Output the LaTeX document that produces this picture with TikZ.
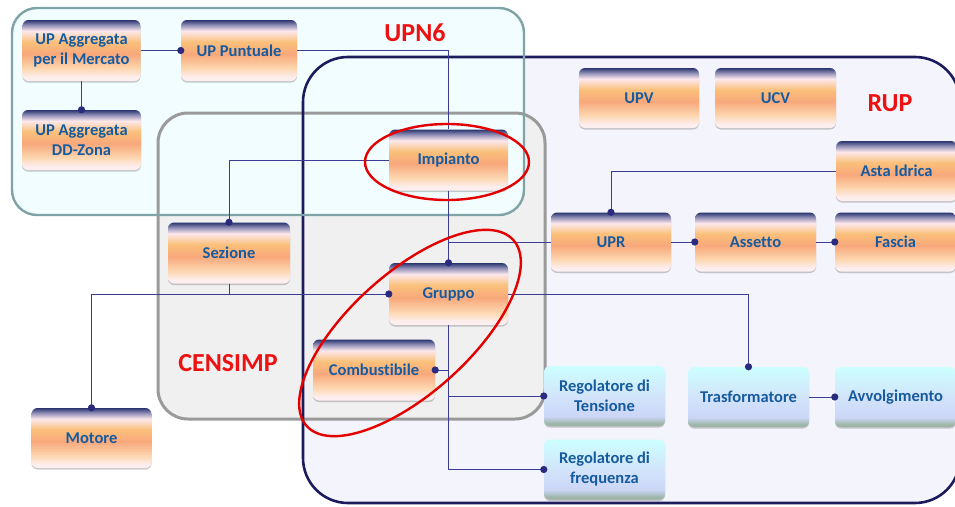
\documentclass[tikz,border=0pt]{standalone}
\usepackage{fontspec}
\setmainfont[Ligatures=NoCommon]{Carlito}
\usetikzlibrary{shadows}
\definecolor{oN}{HTML}{2A3570}
\definecolor{oM}{HTML}{8E8DB5}
\definecolor{oP}{HTML}{FDE8EC}
\definecolor{oO}{HTML}{FAC07A}
\definecolor{oS}{HTML}{F8A87B}
\definecolor{oL}{HTML}{FDD8B2}
\definecolor{oB}{HTML}{FDEEF0}
\definecolor{bT}{HTML}{CCFFFF}
\definecolor{bM}{HTML}{D2E4FA}
\definecolor{bL}{HTML}{CCD6F8}
\definecolor{bG}{HTML}{9DB5A6}
\definecolor{txt}{HTML}{175B9F}
\definecolor{lin}{HTML}{3C3C96}
\definecolor{dotc}{HTML}{2A2A7E}
\definecolor{upnfill}{HTML}{F1FDFE}
\definecolor{upnline}{HTML}{7FA3A6}
\definecolor{rupfill}{HTML}{F4F4FC}
\definecolor{rupline}{HTML}{1C1C5C}
\definecolor{cenfill}{HTML}{F0F0F0}
\definecolor{cenline}{HTML}{9A9A9A}
\definecolor{lblred}{HTML}{EE1111}
\pgfdeclareverticalshading{orangeshade}{100bp}{color(0bp)=(oB); color(25bp)=(oB); color(28bp)=(oB); color(35bp)=(oL); color(47bp)=(oS); color(57bp)=(oO); color(66bp)=(oP); color(71bp)=(oM); color(75bp)=(oN); color(100bp)=(oN)}
\pgfdeclareverticalshading{blueshade}{100bp}{color(0bp)=(bG); color(25bp)=(bG); color(27bp)=(bG); color(33bp)=(bL); color(50bp)=(bM); color(75bp)=(bT); color(100bp)=(bT)}
\tikzset{
  obox/.style={rounded corners=6pt, shading=orangeshade, minimum width=120pt, minimum height=60pt,
    font=\fontsize{16.5}{20}\selectfont\bfseries, text=txt, align=center, inner sep=0pt,
    drop shadow={shadow xshift=0pt, shadow yshift=-1.5pt, opacity=0.35, fill=black!60}},
  bbox/.style={obox, shading=blueshade},
  conn/.style={draw=lin, line width=0.9pt},
  lbl/.style={font=\fontsize{26}{30}\selectfont\bfseries, text=lblred},
  ring/.style={draw=red!90!black, line width=2.4pt}
}
\newcommand{\dotat}[1]{\fill[dotc] (#1) circle (3.6pt);}
\begin{document}
\begin{tikzpicture}[x=1pt,y=-1pt]
\useasboundingbox (0,0) rectangle (955,506);
% container fills
\fill[rupfill] (303,57) [rounded corners=45pt] -- (960,57) -- (960,503) -- (303,503) -- cycle;
\fill[cenfill] (158,113) [rounded corners=30pt] -- (545,113) -- (545,419) -- (158,419) -- cycle;
\fill[upnfill] (12,8) [rounded corners=25pt] -- (524,8) -- (524,215) -- (12,215) -- cycle;
% container borders
\draw[cenline, line width=3pt, rounded corners=30pt] (158,113) rectangle (545,419);
\draw[rupline, line width=2.6pt, rounded corners=45pt] (303,57) rectangle (960,503);
\draw[upnline, line width=2.4pt, rounded corners=25pt] (12,8) rectangle (524,215);
% labels
\node[lbl] (lupn) at (415,33) {UPN6};
\node[lbl] (lrup) at (890,103) {RUP};
\node[lbl] (lcen) at (228,363) {CENSIMP};
% nodes
\node[obox, minimum width=118pt, minimum height=61pt] (merc) at (81.5,50.5) {UP Aggregata\\per il Mercato};
\node[obox, minimum width=116pt, minimum height=61pt] (punt) at (239,50.5) {UP Puntuale};
\node[obox, minimum width=119pt, minimum height=60pt] (dd) at (81.5,140) {UP Aggregata\\DD-Zona};
\node[obox, minimum width=119pt, minimum height=61pt] (imp) at (448.5,160) {Impianto};
\node[obox, minimum width=122pt, minimum height=61pt] (sez) at (229,253) {Sezione};
\node[obox, minimum width=119pt, minimum height=62pt] (grp) at (448.5,294) {Gruppo};
\node[obox, minimum width=122pt, minimum height=61pt] (comb) at (374,370) {Combustibile};
\node[obox, minimum width=120pt, minimum height=60pt] (mot) at (91.5,438) {Motore};
\node[obox, minimum width=120pt, minimum height=60pt] (upv) at (639,98) {UPV};
\node[obox, minimum width=121pt, minimum height=60pt] (ucv) at (775.5,98) {UCV};
\node[obox, minimum width=121pt, minimum height=60pt] (asta) at (896.5,171) {Asta Idrica};
\node[obox, minimum width=120pt, minimum height=59pt] (upr) at (611,242) {UPR};
\node[obox, minimum width=121pt, minimum height=59pt] (ass) at (755.5,242) {Assetto};
\node[obox, minimum width=121pt, minimum height=59pt] (fas) at (895.5,242) {Fascia};
\node[bbox, minimum width=121pt, minimum height=60pt] (rt) at (604.5,396) {Regolatore di\\Tensione};
\node[bbox, minimum width=121pt, minimum height=60pt] (tra) at (748.5,397) {Trasformatore};
\node[bbox, minimum width=121pt, minimum height=60pt] (avv) at (895.5,397) {Avvolgimento};
\node[bbox, minimum width=121pt, minimum height=60pt] (rf) at (604.5,469.5) {Regolatore di\\frequenza};
% connectors
\draw[conn] (merc.east) -- (punt.west); \dotat{punt.west}
\draw[conn] (merc.south) -- (dd.north); \dotat{dd.north}
\draw[conn] (punt.east) -| (imp.north);
\draw[conn] (imp.west) -| (sez.north); \dotat{sez.north}
\draw[conn] (imp.south) -- (grp.north); \dotat{grp.north}
\coordinate (j1) at (imp.south |- upr.west);
\draw[conn] (j1) -- (upr.west);
\draw[conn] (sez.south) |- (grp.west);
\draw[conn] (mot.north) |- (grp.west); \dotat{grp.west} \dotat{mot.north}
\draw[conn] (grp.east) -| (tra.north); \dotat{tra.north}
\draw[conn] (grp.south) |- (comb.east); \dotat{comb.east}
\draw[conn] (grp.south) |- (rt.west); \dotat{rt.west}
\draw[conn] (grp.south) |- (rf.west); \dotat{rf.west}
\draw[conn] (asta.west) -| (upr.north); \dotat{upr.north}
\draw[conn] (upr.east) -- (ass.west); \dotat{ass.west}
\draw[conn] (ass.east) -- (fas.west); \dotat{fas.west}
\draw[conn] (tra.east) -- (avv.west); \dotat{avv.west}
% red rings
\draw[ring] (447,162) ellipse [x radius=82, y radius=38];
\draw[ring, rotate around={42:(410,333)}] (410,333) ellipse [x radius=139, y radius=60];
\end{tikzpicture}
\end{document}
